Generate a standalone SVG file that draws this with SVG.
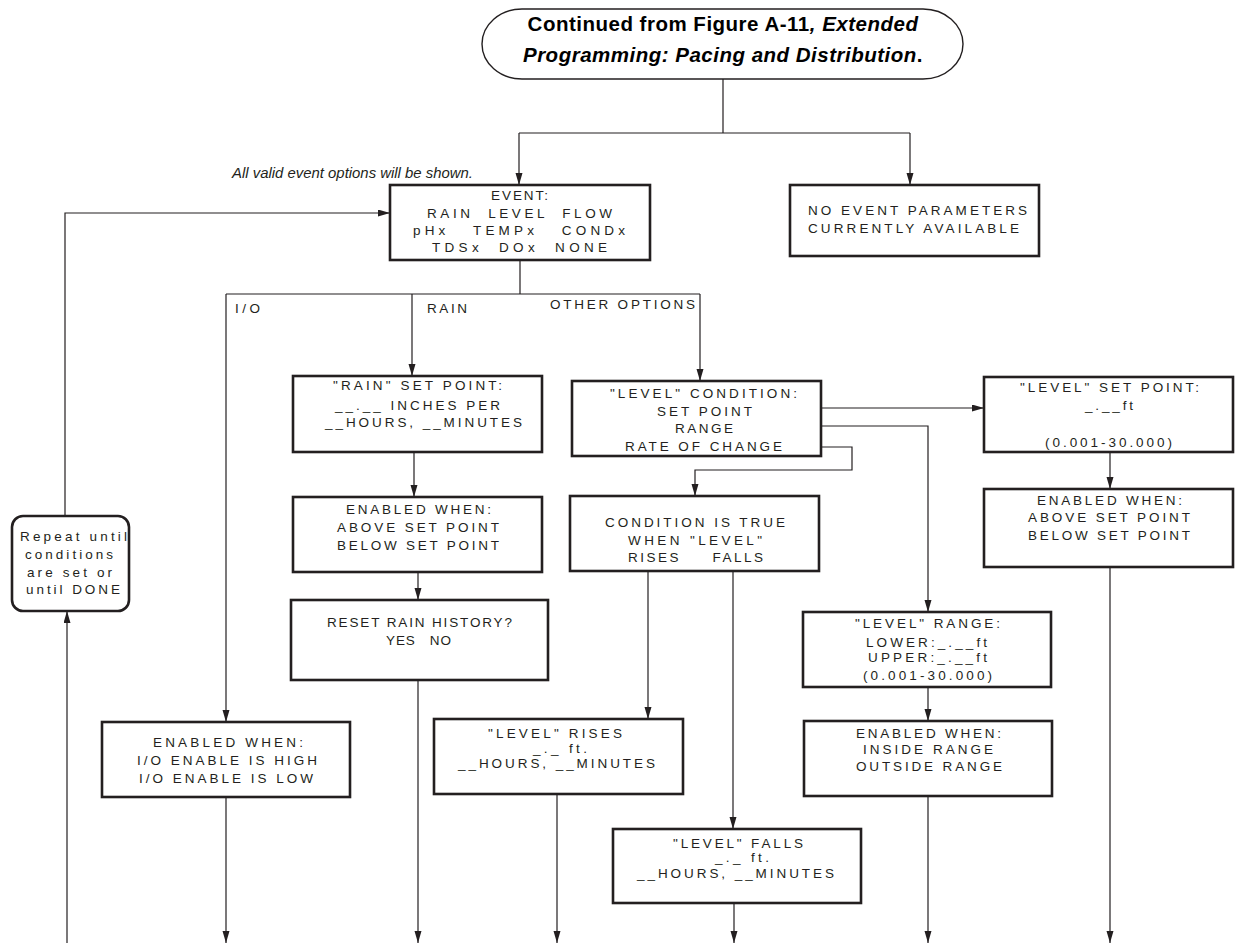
<svg xmlns="http://www.w3.org/2000/svg" width="1238" height="943" viewBox="0 0 1238 943">
<style>
.box{fill:#fff;stroke:#231f20;stroke-width:2.6}
.term{fill:#fff;stroke:#231f20;stroke-width:1.4}
.ln{fill:none;stroke:#231f20;stroke-width:1.2}
.t{font-family:"Liberation Sans",Arial,sans-serif;font-size:13.5px;fill:#231f20}
.h{font-family:"Liberation Sans",Arial,sans-serif;font-size:20.5px;font-weight:bold;fill:#000;letter-spacing:0.5px}
.n{font-family:"Liberation Sans",Arial,sans-serif;font-size:14px;font-style:italic;fill:#231f20}
</style>
<defs>
<marker id="a" markerUnits="userSpaceOnUse" markerWidth="12" markerHeight="8" refX="12" refY="3.5" orient="auto"><path d="M0,0 L12,3.5 L0,7 z" fill="#231f20"/></marker>
</defs>
<g id="connectors">
<path class="ln" d="M723,79 V133 M519,133 H910"/>
<path class="ln" marker-end="url(#a)" d="M519,133 V185"/>
<path class="ln" marker-end="url(#a)" d="M910,133 V185"/>
<path class="ln" d="M520,260 V294 M226,294 H700"/>
<path class="ln" marker-end="url(#a)" d="M226,294 V722"/>
<path class="ln" marker-end="url(#a)" d="M412,294 V376"/>
<path class="ln" marker-end="url(#a)" d="M700,294 V381"/>
<path class="ln" marker-end="url(#a)" d="M414,452 V497"/>
<path class="ln" marker-end="url(#a)" d="M418,572 V600"/>
<path class="ln" marker-end="url(#a)" d="M418,680 V943"/>
<path class="ln" marker-end="url(#a)" d="M821,408 H984"/>
<path class="ln" marker-end="url(#a)" d="M821,426 H928 V612"/>
<path class="ln" marker-end="url(#a)" d="M821,447 H852 V470 H695 V496"/>
<path class="ln" marker-end="url(#a)" d="M1110,452 V489"/>
<path class="ln" marker-end="url(#a)" d="M1110,567 V943"/>
<path class="ln" marker-end="url(#a)" d="M648,571 V719"/>
<path class="ln" marker-end="url(#a)" d="M733,571 V829"/>
<path class="ln" marker-end="url(#a)" d="M928,687 V721"/>
<path class="ln" marker-end="url(#a)" d="M928,796 V943"/>
<path class="ln" marker-end="url(#a)" d="M226,797 V943"/>
<path class="ln" marker-end="url(#a)" d="M557,794 V943"/>
<path class="ln" marker-end="url(#a)" d="M734,903 V943"/>
<path class="ln" marker-end="url(#a)" d="M67,943 V611"/>
<path class="ln" marker-end="url(#a)" d="M65,516 V213 H390"/>
<text class="t" x="235" y="313" textLength="25" lengthAdjust="spacing">I/O</text>
<text class="t" x="427" y="313" textLength="40" lengthAdjust="spacing">RAIN</text>
<text class="t" x="550" y="309" textLength="145" lengthAdjust="spacing">OTHER OPTIONS</text>
</g>
<g id="start">
<rect class="term" x="482" y="9" width="481" height="70" rx="40" ry="35"/>
<text class="h" x="723" y="31" text-anchor="middle">Continued from Figure A-11<tspan font-style="italic">, Extended</tspan></text>
<text class="h" x="723" y="62" text-anchor="middle"><tspan font-style="italic">Programming: Pacing and Distribution</tspan>.</text>
</g>
<g id="note">
<text class="n" x="232" y="178" textLength="241" lengthAdjust="spacingAndGlyphs">All valid event options will be shown.</text>
</g>
<g id="event">
<rect class="box" x="390" y="185" width="260" height="75"/>
<text class="t" x="491" y="200" textLength="57" lengthAdjust="spacing">EVENT:</text>
<text class="t" x="427" y="218" textLength="185" lengthAdjust="spacing" xml:space="preserve">RAIN  LEVEL  FLOW</text>
<text class="t" x="413" y="235" textLength="212" lengthAdjust="spacing" xml:space="preserve">pHx   TEMPx   CONDx</text>
<text class="t" x="432" y="252" textLength="175" lengthAdjust="spacing" xml:space="preserve">TDSx  DOx  NONE</text>
</g>
<g id="noevent">
<rect class="box" x="790" y="185" width="249" height="71"/>
<text class="t" x="808" y="215" textLength="219" lengthAdjust="spacing">NO EVENT PARAMETERS</text>
<text class="t" x="808" y="233" textLength="211" lengthAdjust="spacing">CURRENTLY AVAILABLE</text>
</g>
<g id="rainsetpoint">
<rect class="box" x="293" y="376" width="249" height="76"/>
<text class="t" x="333" y="390" textLength="169" lengthAdjust="spacing">"RAIN" SET POINT:</text>
<text class="t" x="335" y="410" textLength="165" lengthAdjust="spacing">__.__ INCHES PER</text>
<text class="t" x="325" y="427" textLength="197" lengthAdjust="spacing">__HOURS, __MINUTES</text>
</g>
<g id="rainenabled">
<rect class="box" x="293" y="497" width="249" height="75"/>
<text class="t" x="346" y="514" textLength="145" lengthAdjust="spacing">ENABLED WHEN:</text>
<text class="t" x="337" y="532" textLength="162" lengthAdjust="spacing">ABOVE SET POINT</text>
<text class="t" x="337" y="550" textLength="162" lengthAdjust="spacing">BELOW SET POINT</text>
</g>
<g id="resetrain">
<rect class="box" x="291" y="600" width="257" height="80"/>
<text class="t" x="327" y="627" textLength="185" lengthAdjust="spacing">RESET RAIN HISTORY?</text>
<text class="t" x="386" y="645" textLength="65" lengthAdjust="spacing" xml:space="preserve">YES   NO</text>
</g>
<g id="levelcondition">
<rect class="box" x="572" y="381" width="249" height="75"/>
<text class="t" x="610" y="398" textLength="187" lengthAdjust="spacing">"LEVEL" CONDITION:</text>
<text class="t" x="657" y="416" textLength="95" lengthAdjust="spacing">SET POINT</text>
<text class="t" x="675" y="433" textLength="58" lengthAdjust="spacing">RANGE</text>
<text class="t" x="625" y="451" textLength="157" lengthAdjust="spacing">RATE OF CHANGE</text>
</g>
<g id="levelsetpoint">
<rect class="box" x="984" y="377" width="249" height="75"/>
<text class="t" x="1020" y="392" textLength="179" lengthAdjust="spacing">"LEVEL" SET POINT:</text>
<text class="t" x="1085" y="410" textLength="48" lengthAdjust="spacing">_.__ft</text>
<text class="t" x="1045" y="447" textLength="127" lengthAdjust="spacing">(0.001-30.000)</text>
</g>
<g id="setpointenabled">
<rect class="box" x="984" y="489" width="249" height="78"/>
<text class="t" x="1037" y="505" textLength="145" lengthAdjust="spacing">ENABLED WHEN:</text>
<text class="t" x="1028" y="522" textLength="162" lengthAdjust="spacing">ABOVE SET POINT</text>
<text class="t" x="1028" y="540" textLength="162" lengthAdjust="spacing">BELOW SET POINT</text>
</g>
<g id="repeat">
<rect class="box" x="12" y="516" width="117" height="95" rx="11" ry="11"/>
<text class="t" x="20" y="541" textLength="107" lengthAdjust="spacing">Repeat until</text>
<text class="t" x="25" y="559" textLength="88" lengthAdjust="spacing">conditions</text>
<text class="t" x="27" y="577" textLength="85" lengthAdjust="spacing">are set or</text>
<text class="t" x="26" y="594" textLength="94" lengthAdjust="spacing">until DONE</text>
</g>
<g id="conditiontrue">
<rect class="box" x="570" y="496" width="249" height="75"/>
<text class="t" x="605" y="527" textLength="180" lengthAdjust="spacing">CONDITION IS TRUE</text>
<text class="t" x="628" y="545" textLength="134" lengthAdjust="spacing">WHEN "LEVEL"</text>
<text class="t" x="628" y="562" textLength="135" lengthAdjust="spacing" xml:space="preserve">RISES     FALLS</text>
</g>
<g id="levelrange">
<rect class="box" x="803" y="612" width="248" height="75"/>
<text class="t" x="855" y="628" textLength="145" lengthAdjust="spacing">"LEVEL" RANGE:</text>
<text class="t" x="866" y="647" textLength="121" lengthAdjust="spacing">LOWER:_.__ft</text>
<text class="t" x="868" y="662" textLength="119" lengthAdjust="spacing">UPPER:_.__ft</text>
<text class="t" x="863" y="680" textLength="129" lengthAdjust="spacing">(0.001-30.000)</text>
</g>
<g id="rangeenabled">
<rect class="box" x="804" y="721" width="248" height="75"/>
<text class="t" x="856" y="738" textLength="145" lengthAdjust="spacing">ENABLED WHEN:</text>
<text class="t" x="863" y="754" textLength="130" lengthAdjust="spacing">INSIDE RANGE</text>
<text class="t" x="856" y="771" textLength="146" lengthAdjust="spacing">OUTSIDE RANGE</text>
</g>
<g id="ioenabled">
<rect class="box" x="102" y="722" width="248" height="75"/>
<text class="t" x="153" y="747" textLength="150" lengthAdjust="spacing">ENABLED WHEN:</text>
<text class="t" x="137" y="765" textLength="180" lengthAdjust="spacing">I/O ENABLE IS HIGH</text>
<text class="t" x="139" y="783" textLength="174" lengthAdjust="spacing">I/O ENABLE IS LOW</text>
</g>
<g id="levelrises">
<rect class="box" x="434" y="719" width="249" height="75"/>
<text class="t" x="488" y="738" textLength="134" lengthAdjust="spacing">"LEVEL" RISES</text>
<text class="t" x="533" y="753" textLength="54" lengthAdjust="spacing">_._ ft.</text>
<text class="t" x="458" y="768" textLength="197" lengthAdjust="spacing">__HOURS, __MINUTES</text>
</g>
<g id="levelfalls">
<rect class="box" x="613" y="829" width="248" height="74"/>
<text class="t" x="673" y="848" textLength="130" lengthAdjust="spacing">"LEVEL" FALLS</text>
<text class="t" x="715" y="862" textLength="54" lengthAdjust="spacing">_._ ft.</text>
<text class="t" x="637" y="878" textLength="197" lengthAdjust="spacing">__HOURS, __MINUTES</text>
</g>
</svg>
